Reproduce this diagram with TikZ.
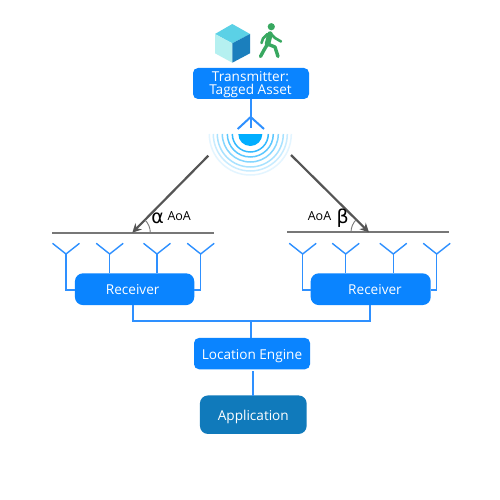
\documentclass[tikz,border=0pt]{standalone}
\usepackage{fontspec}
\setmainfont{Open Sans}
\newfontfamily\greekfont{DejaVu Sans}
\usetikzlibrary{arrows.meta}
\definecolor{boxblue}{HTML}{0A84FF}
\definecolor{appblue}{HTML}{107ABB}
\definecolor{wire}{HTML}{2E90FF}
\definecolor{beam}{HTML}{555555}
\definecolor{bar}{HTML}{777777}
\definecolor{walker}{HTML}{38A860}
\definecolor{cubetop}{HTML}{5BD1E6}
\definecolor{cubeleft}{HTML}{B5F0F0}
\definecolor{cuberight}{HTML}{1B7FBD}
\definecolor{dome}{HTML}{00AEFF}
\definecolor{ringa}{HTML}{E3F5FF}
\definecolor{ringb}{HTML}{C8ECFF}
\definecolor{ringc}{HTML}{A8E2FF}
\definecolor{ringd}{HTML}{85D6FF}
\definecolor{ringe}{HTML}{5CC8FF}
\definecolor{ringf}{HTML}{33BAFF}
\tikzset{
  box/.style={rounded corners=#1,fill=boxblue,draw=none,text=white,font=\fontsize{13.6}{15}\selectfont,align=center,inner sep=0pt},
  box/.default=5pt,
  boxtext/.style={font=\fontsize{13.6}{15}\selectfont,text=white,align=center,inner sep=0pt},
  wireline/.style={draw=wire,line width=2pt},
  thinwire/.style={draw=wire,line width=1.4pt},
  beamline/.style={draw=beam,line width=2.2pt,-{Stealth[length=9pt,width=9pt]}},
  barline/.style={draw=bar,line width=1.8pt},
  anglearc/.style={draw=bar,line width=0.9pt},
  note/.style={font=\fontsize{12.5}{14}\selectfont,text=black,inner sep=0pt},
  greek/.style={font=\greekfont\fontsize{19}{21}\selectfont,text=black,inner sep=0pt},
  limb/.style={draw=walker,line width=3.4pt,line cap=round,line join=round},
}
\begin{document}
\begin{tikzpicture}[x=1pt,y=-1pt]
\useasboundingbox[fill=white] (0,0) rectangle (500,500);
% cube
\fill[cubetop] (232.3,24) -- (250,34) -- (232.3,43.3) -- (215,34) -- cycle;
\fill[cubeleft] (215,34) -- (232.3,43.3) -- (232.3,62.7) -- (215,53.3) -- cycle;
\fill[cuberight] (250,34) -- (232.3,43.3) -- (232.3,62.7) -- (250,53.3) -- cycle;
% walker
\fill[walker] (271.3,26.7) circle[radius=3.6pt];
\draw[limb,line width=5.5pt] (270,34) -- (267.5,44);
\draw[limb] (267.5,44) -- (275,47) -- (278,56.5);
\draw[limb] (267,45) -- (264,50) -- (260.5,56.5);
\draw[limb,line width=2.6pt] (270,33) -- (275,38) -- (281,41.5);
\draw[limb,line width=2.6pt] (267.5,34) -- (263,38.5) -- (261.5,43);
% transmitter
\node[box,minimum width=116pt,minimum height=31pt] (tx) at (251,83.5) {};
\node[boxtext] (txt) at (250.5,84.6) {Transmitter:\\[-1.5pt]Tagged Asset};
% signal rings
\foreach \r/\c in {41/ringa,37/ringb,33/ringc,28/ringd,23/ringe,18/ringf}{
  \draw[\c,line width=1.5pt] (250.3-\r,134) arc[start angle=180,end angle=360,radius=\r pt];
}
\fill[dome] (238.3,134) arc[start angle=180,end angle=360,radius=12pt] -- cycle;
\coordinate (txapex) at (250.7,117);
\coordinate (txleft) at (237.7,129);
\coordinate (txright) at (264,129);
\draw[wireline] (tx.south -| txapex) -- (250.7,128);
\draw[wireline] (txleft) -- (txapex) -- (txright);
% baselines
\coordinate (la) at (52.3,232.7);
\coordinate (lb) at (214.3,232.7);
\coordinate (ra) at (287.3,232);
\coordinate (rb) at (449.3,232);
\draw[barline] (la) -- (lb);
\draw[barline] (ra) -- (rb);
% beams
\coordinate (ls) at (208.3,155.7);
\coordinate (lt) at (132.3,232.7);
\coordinate (rs) at (291,155);
\coordinate (rt) at (369,232.3);
\draw[beamline] (ls) -- (lt);
\draw[beamline] (rs) -- (rt);
\draw[anglearc] (150.3,232.7) arc[start angle=0,end angle=45,radius=18pt];
\draw[anglearc] (351,232.3) arc[start angle=180,end angle=135,radius=18pt];
\node[greek] (alpha) at (157.7,218.5) {α};
\node[note] (aoal) at (179.2,216.5) {AoA};
\node[greek] (beta) at (342.7,218) {β};
\node[note] (aoar) at (319.5,216.5) {AoA};
% receivers
\node[box=8pt,minimum width=119.3pt,minimum height=31.7pt] (rxl) at (134.6,289.2) {};
\node[box=8pt,minimum width=120pt,minimum height=31.7pt] (rxr) at (370.7,289.2) {};
\node[boxtext] (rxlt) at (132.7,289.8) {Receiver};
\node[boxtext] (rxrt) at (375,289.8) {Receiver};
% antennas
\foreach \n/\x in {a/66,b/109.7,c/157,d/200.7,e/302.7,f/345.7,g/393.3,h/436.7}{
  \coordinate (\n apex) at (\x,254);
  \coordinate (\n l) at (\x-13.5,243.3);
  \coordinate (\n r) at (\x+13.5,243.3);
  \draw[thinwire] (\n l) -- (\n apex) -- (\n r);
}
\draw[thinwire] (aapex) |- (rxl.west |- 0,290);
\draw[thinwire] (bapex) -- (bapex |- rxl.north);
\draw[thinwire] (capex) -- (capex |- rxl.north);
\draw[thinwire] (dapex) |- (rxl.east |- 0,290);
\draw[thinwire] (eapex) |- (rxr.west |- 0,290);
\draw[thinwire] (fapex) -- (fapex |- rxr.north);
\draw[thinwire] (gapex) -- (gapex |- rxr.north);
\draw[thinwire] (hapex) |- (rxr.east |- 0,290);
% engine and application
\node[box,minimum width=116pt,minimum height=31.3pt,text height=10.8pt,text depth=0pt] (eng) at (252,353.6) {Location Engine};
\node[box=8pt,fill=appblue,minimum width=106.7pt,minimum height=38.5pt,text height=10.6pt,text depth=0pt] (app) at (253.3,414.7) {Application};
\coordinate (bus) at (251.3,320.8);
\coordinate (rxlb) at (133.3,305);
\coordinate (rxrb) at (370,305);
\draw[wireline] (rxlb) |- (bus) -| (rxrb);
\draw[wireline] (bus) -- (bus |- eng.north);
\draw[wireline,line width=2.2pt] (253,371) -- (253,395.5);
\end{tikzpicture}
\end{document}
